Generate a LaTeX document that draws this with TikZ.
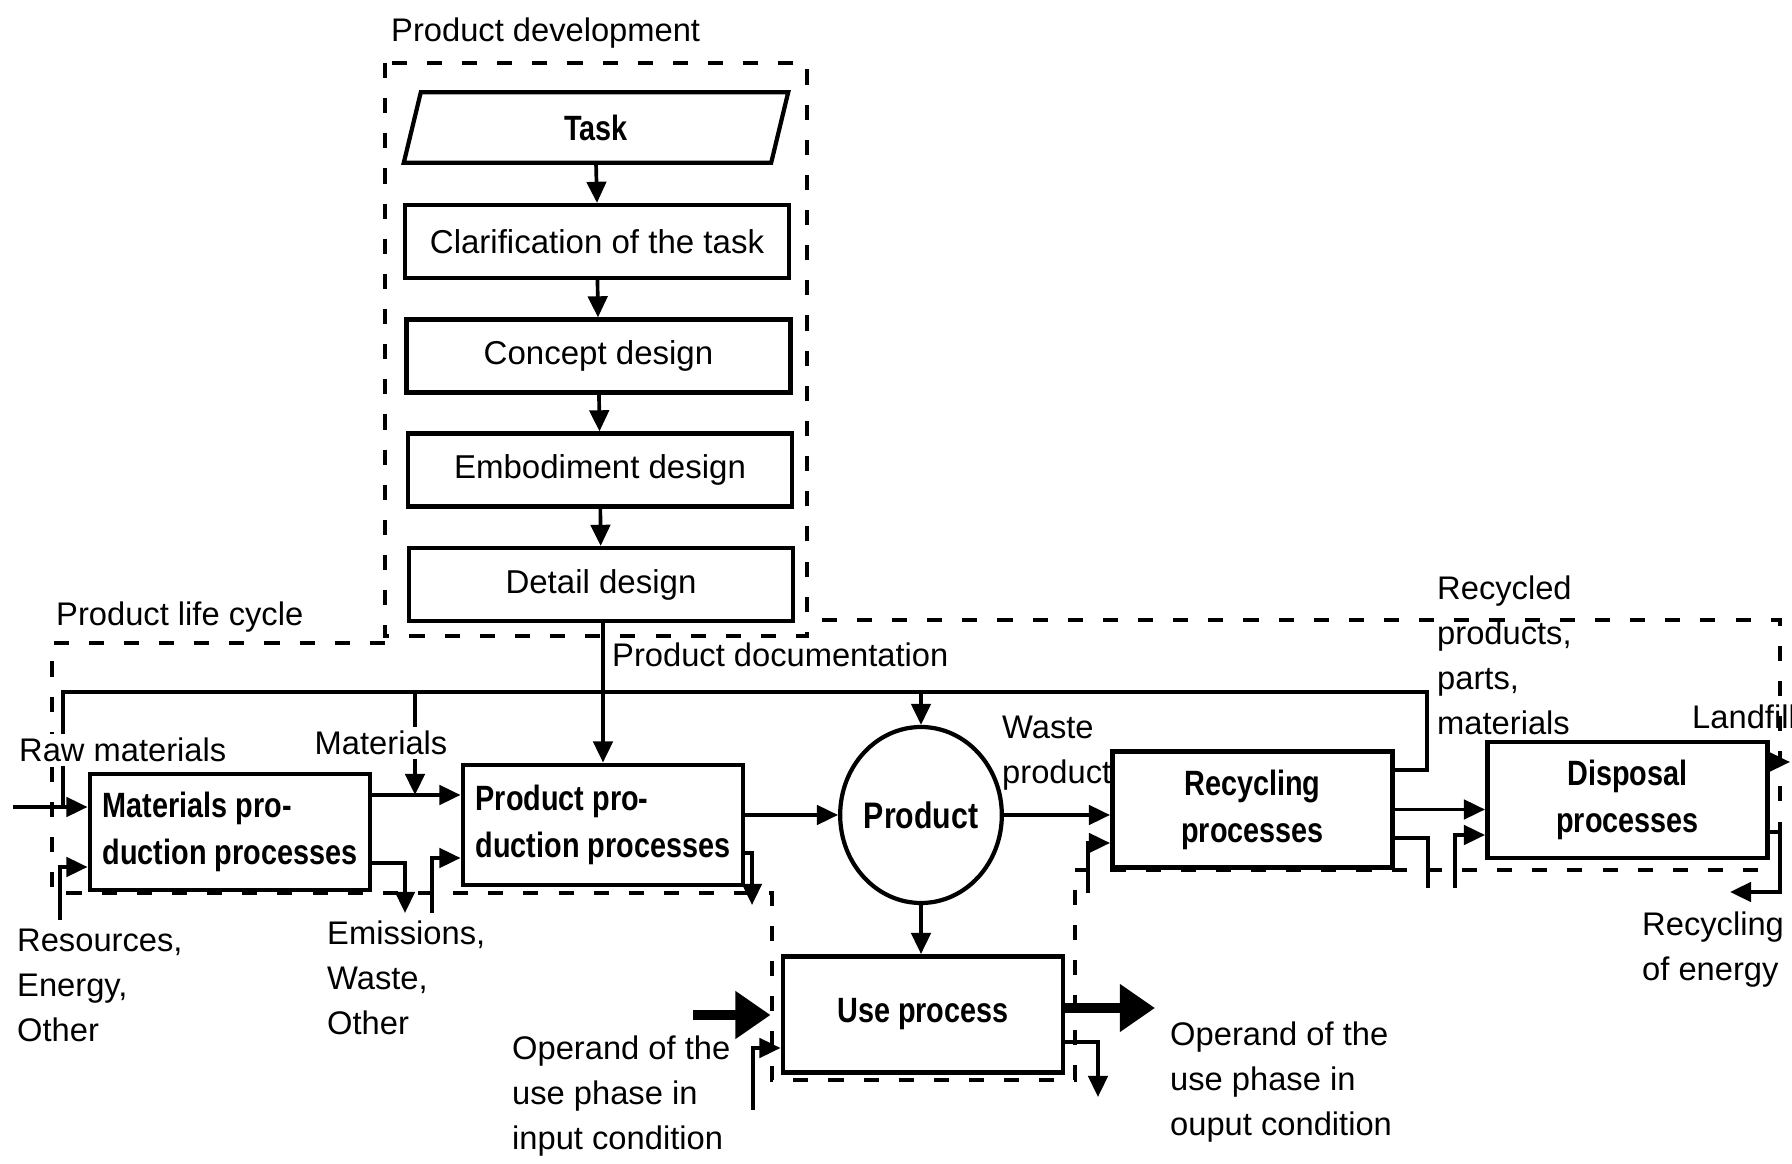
\documentclass[tikz,border=0pt]{standalone}
\usepackage{fontspec}
\setmainfont{Liberation Sans}
\newfontfamily\narrowsans[FakeStretch=0.82]{Liberation Sans}
\usetikzlibrary{arrows.meta,calc,positioning,shapes.geometric}

\tikzset{
	pdbox/.style={draw, line width=1.2pt, minimum width=3.84cm, minimum height=0.73cm, font=\fontsize{9.4}{11}\selectfont},
	procbox/.style={draw, line width=1.4pt, minimum width=2.8cm, minimum height=1.16cm, inner sep=1pt, font=\narrowsans\bfseries\fontsize{10}{13.4}\selectfont},
	lbl/.style={align=left, inner sep=1pt, font=\fontsize{9.3}{12.8}\selectfont},
	line/.style={line width=1.05pt},
	flow/.style={line width=1.05pt, -{Triangle[length=6pt,width=5.5pt]}},
	bigflow/.style={line width=2.8pt, -{Triangle[length=10pt,width=13pt]}},
	border/.style={line width=1.2pt, dash pattern=on 4.3pt off 5.7pt},
}

\begin{document}
\begin{tikzpicture}
		\useasboundingbox (0,0) rectangle (17.92,-11.64);
		\node[lbl, anchor=west] (pdlabel) at (3.87,-0.33) {Product development};
		\draw[border] (3.85,-0.63) rectangle (8.07,-6.36);
		\node[minimum width=3.66cm, minimum height=0.69cm, font=\narrowsans\bfseries\fontsize{10}{12}\selectfont] (task) at (5.96,-1.275) {Task};
		\draw[line width=1.2pt] ([xshift=0.85mm]task.north west) -- ([xshift=0.85mm]task.north east) -- ([xshift=-0.85mm]task.south east) -- ([xshift=-0.85mm]task.south west) -- cycle;
		\node[pdbox] (clar) at (5.97,-2.415) {Clarification of the task};
		\node[pdbox] (concept) at (5.985,-3.56) {Concept design};
		\node[pdbox] (embod) at (6.00,-4.70) {Embodiment design};
		\node[pdbox] (detail) at (6.01,-5.845) {Detail design};
		\draw[flow] (task.south) -- (clar.north);
		\draw[flow] (clar) -- (concept);
		\draw[flow] (concept) -- (embod);
		\draw[flow] (embod) -- (detail);

		\draw[border] (3.85,-6.43) -- (0.52,-6.43) -- (0.52,-8.93) -- (7.72,-8.93) -- (7.72,-10.80) -- (10.75,-10.80) -- (10.75,-8.70) -- (17.80,-8.70) -- (17.80,-6.20) -- (8.07,-6.20);
		\node[lbl, anchor=west] (pllabel) at (0.52,-6.17) {Product life cycle};

		\node[procbox, align=left] (matp) at (2.30,-8.32) {Materials pro-\\duction processes};
		\node[procbox, align=left, minimum height=1.2cm] (prodp) at (6.03,-8.25) {Product pro-\\duction processes};
		\node[draw, ellipse, line width=1.2pt, minimum width=1.46cm, minimum height=1.76cm, inner sep=0pt, font=\narrowsans\bfseries\fontsize{10.5}{12}\selectfont] (product) at (9.21,-8.15) {Product};
		\node[procbox] (usep) at (9.23,-10.145) {Use process};
		\node[procbox, align=center] (recp) at (12.525,-8.095) {Recycling\\processes};
		\node[procbox, align=center] (disp) at (16.275,-8.00) {Disposal\\processes};

		\draw[flow] (detail.south -| prodp.north) -- (prodp.north);
		\coordinate (fbleft) at (0.63,-6.92);
		\coordinate (fbright) at (14.27,-6.92);
		\coordinate (rawin) at (0.13,-8.07);
		\draw[line] ([yshift=3.95mm]recp.east) -| (fbright) -- (fbleft) -- (fbleft |- rawin);
		\draw[flow] (rawin) -- (rawin -| matp.west);
		\coordinate (resin) at (0.60,-9.20);
		\draw[flow] (resin) |- ([yshift=-3.5mm]matp.west);
		\coordinate (mpout) at ([yshift=3.7mm]matp.east);
		\draw[flow] (mpout) -- (mpout -| prodp.west);
		\coordinate (matdrop) at (4.15,-6.92);
		\draw[flow] (matdrop) -- (matdrop |- mpout);
		\coordinate (emis) at (4.05,-9.13);
		\draw[flow] ([yshift=-3.1mm]matp.east) -| (emis);
		\coordinate (prodin) at (4.32,-9.13);
		\draw[flow] (prodin) |- ([yshift=-3.3mm]prodp.west);
		\coordinate (prodout) at (7.52,-9.05);
		\draw[flow] ([yshift=-2.8mm]prodp.east) -| (prodout);
		\draw[flow] (prodp.east |- product.west) -- (product.west);
		\draw[flow] (product.north |- fbleft) -- (product.north);
		\draw[flow] (product.south) -- (product.south |- usep.north);
		\draw[flow] (product.east) -- (product.east -| recp.west);

		\coordinate (opin) at (6.93,-10.15);
		\draw[bigflow, shorten >=0.1cm] (opin) -- (opin -| usep.west);
		\coordinate (opout) at (11.55,-10.08);
		\draw[bigflow] (opout -| usep.east) -- (opout);
		\coordinate (usein) at (7.53,-11.10);
		\draw[flow] (usein) |- ([yshift=-3.35mm]usep.west);
		\coordinate (useout) at (10.98,-10.97);
		\draw[flow] ([yshift=-2.75mm]usep.east) -| (useout);

		\coordinate (recin) at (10.88,-8.93);
		\draw[flow] (recin) |- ([yshift=-3.35mm]recp.west);
		\draw[flow] (recp.east) -- (recp.east -| disp.west);
		\coordinate (recout) at (14.28,-8.88);
		\draw[line] ([yshift=-2.85mm]recp.east) -| (recout);
		\coordinate (dispin) at (14.55,-8.88);
		\draw[flow] (dispin) |- ([yshift=-3.5mm]disp.west);
		\coordinate (landout) at (17.90,-7.62);
		\draw[flow] ([yshift=3.8mm]disp.east) -- (landout);
		\coordinate (energy) at (17.30,-8.92);
		\draw[flow] ([yshift=-3.2mm]disp.east) -- ++(0.1,0) |- (energy);

		\node[lbl, anchor=west] (doclbl) at (6.08,-6.55) {Product documentation};
		\node[lbl, anchor=west, fill=white] (rawlbl) at (0.15,-7.50) {Raw materials};
		\node[lbl, fill=white] (matlbl) at (3.81,-7.43) {Materials};
		\node[lbl, anchor=west] (reslbl) at (0.13,-9.85) {Resources,\\Energy,\\Other};
		\node[lbl, anchor=west] (emislbl) at (3.23,-9.78) {Emissions,\\Waste,\\Other};
		\node[lbl, anchor=west] (wastelbl) at (9.98,-7.53) {Waste\\product};
		\node[lbl, anchor=west] (reclbl) at (14.33,-6.55) {Recycled\\products,\\parts,\\materials};
		\node[lbl, anchor=west] (landlbl) at (16.88,-7.17) {Landfill};
		\node[lbl, anchor=west] (energylbl) at (16.38,-9.50) {Recycling\\of energy};
		\node[lbl, anchor=west] (opinlbl) at (5.08,-10.96) {Operand of the\\use phase in\\input condition};
		\node[lbl, anchor=west] (opoutlbl) at (11.66,-10.82) {Operand of the\\use phase in\\ouput condition};
		\end{tikzpicture}
\end{document}
